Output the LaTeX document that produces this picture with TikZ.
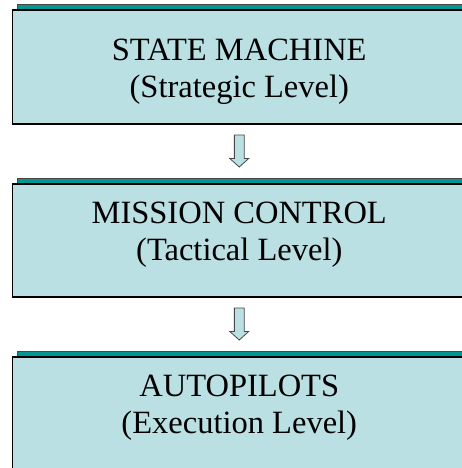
\documentclass[tikz,border=0pt]{standalone}
\usepackage{fontspec}
\setmainfont{Liberation Serif}
\usetikzlibrary{shapes,arrows,positioning,backgrounds}
\definecolor{boxfill}{RGB}{187,224,227}
\definecolor{barteal}{RGB}{0,150,148}
\definecolor{bargrey}{RGB}{70,70,70}

\begin{document}
\begin{tikzpicture}[x=1pt, y=-1pt, node distance=60pt,
  every node/.style={font=\fontsize{32.5}{37}\selectfont},
  levelbox/.style={draw=black, line width=1.3pt, fill=boxfill, rectangle, minimum width=453.5pt, minimum height=114pt, inner sep=0pt, outer sep=0pt},
  levelname/.style={align=center, anchor=base, inner sep=0pt},
  downarrow/.style={draw=bargrey, line width=0.8pt, fill=boxfill, single arrow, shape border rotate=270, minimum height=32pt, minimum width=18pt, single arrow head extend=4.5pt, single arrow tip angle=96, inner xsep=4.5pt, inner ysep=0pt, text width=0pt, outer sep=0pt, anchor=tail}]
\useasboundingbox (0,0) rectangle (462,468);
\clip (0,0) rectangle (462,468);
% the three levels
\node[levelbox, anchor=north west] (machine) at (12.5,10) {};
\node[levelbox, minimum height=113pt] (mission) [below=of machine] {};
\node[levelbox] (autopilots) [below=of mission] {};
% teal strips on top
\begin{scope}[on background layer]
\clip (0,0) rectangle (462,468);
\foreach \lvl in {machine, mission, autopilots}
  \draw[draw=bargrey, fill=barteal, line width=0.8pt] ([xshift=4.5pt]\lvl.north west) rectangle ([xshift=10pt, yshift=6pt]\lvl.north east);
\end{scope}
\node[levelname] (machinetext) at ([yshift=-88pt]machine.north) {STATE MACHINE\\(Strategic Level)};
\node[levelname] (missiontext) at ([yshift=-76pt]mission.north) {MISSION CONTROL\\(Tactical Level)};
\node[levelname] (autopilotstext) at ([yshift=-76pt]autopilots.north) {AUTOPILOTS\\(Execution Level)};
% arrows between levels
\node[downarrow] (stepA) at ([yshift=-11pt]machine.south) {};
\node[downarrow] (stepB) at ([yshift=-11pt]mission.south) {};
\end{tikzpicture}
\end{document}
